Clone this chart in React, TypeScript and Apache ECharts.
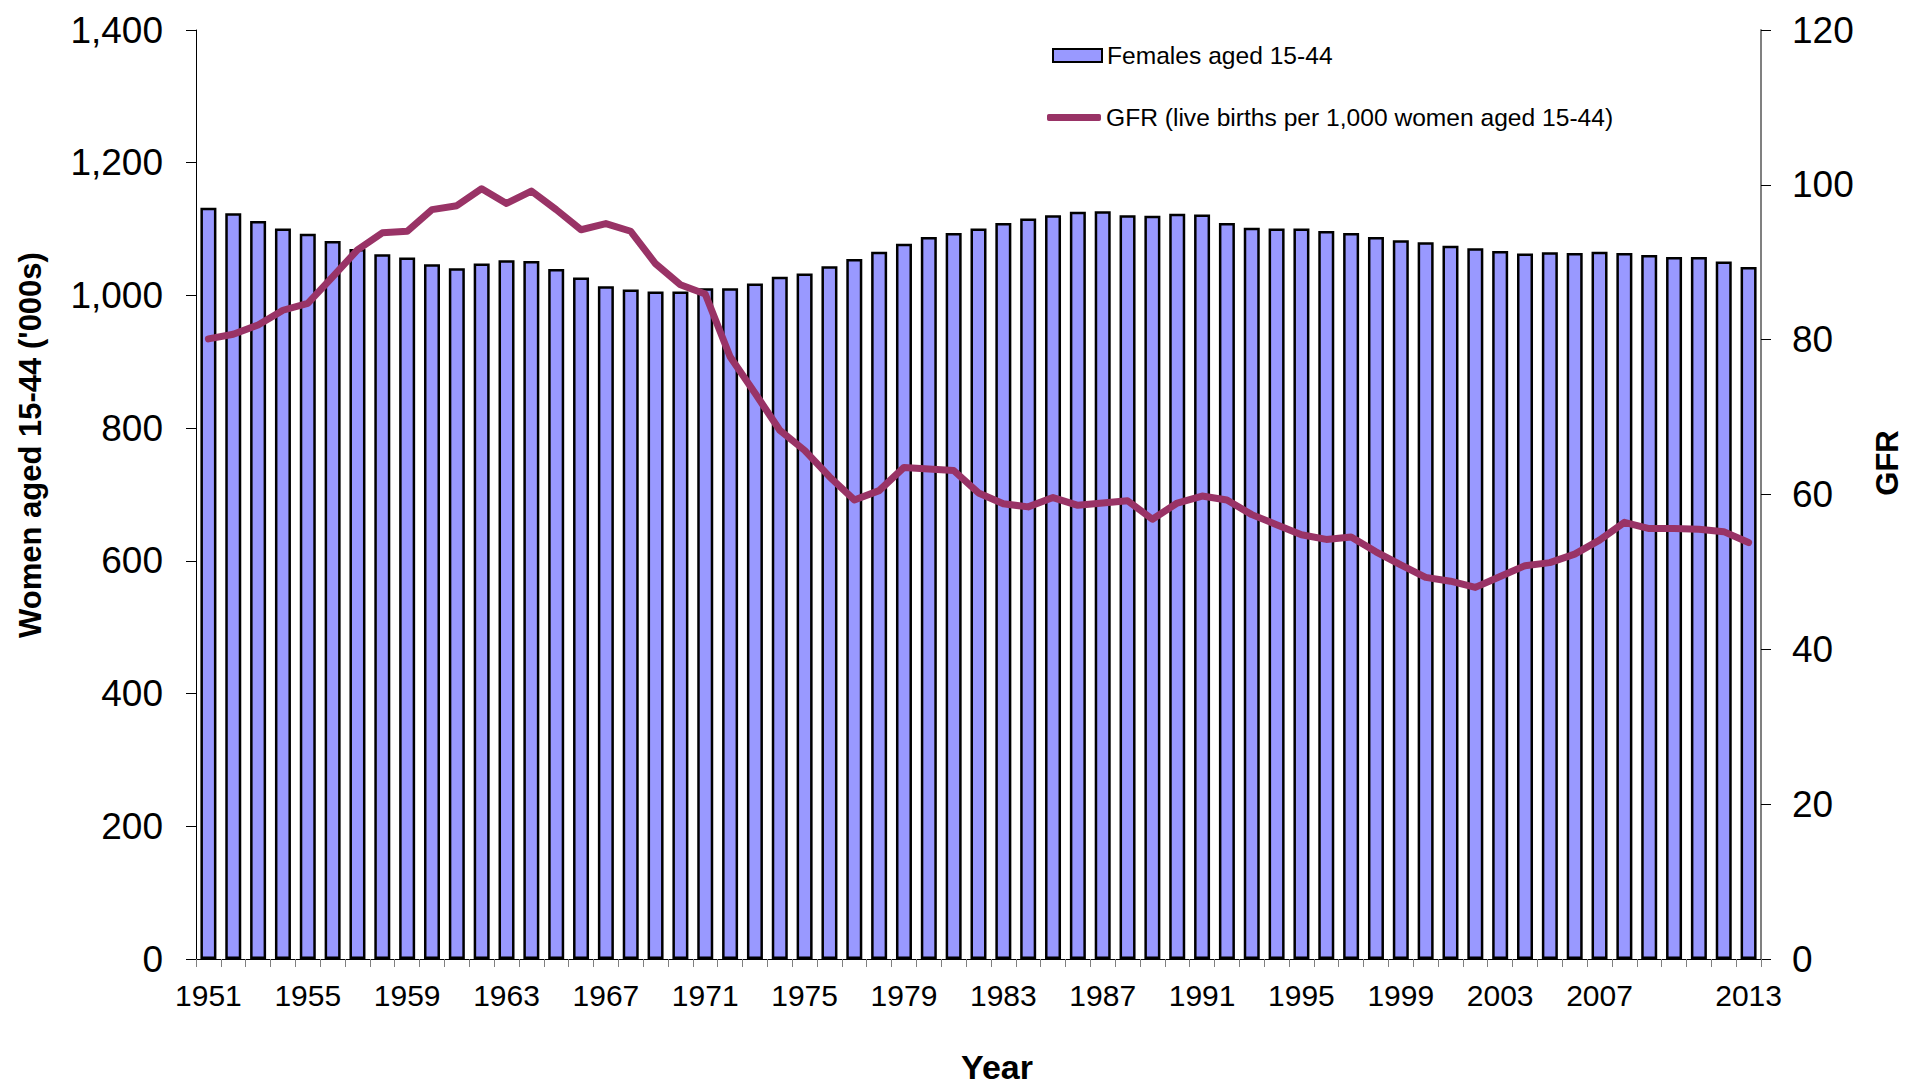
import React, { useEffect, useRef } from "react";
import * as echarts from "echarts";

const years = [
  "1951","1952","1953","1954","1955","1956","1957","1958","1959","1960",
  "1961","1962","1963","1964","1965","1966","1967","1968","1969","1970",
  "1971","1972","1973","1974","1975","1976","1977","1978","1979","1980",
  "1981","1982","1983","1984","1985","1986","1987","1988","1989","1990",
  "1991","1992","1993","1994","1995","1996","1997","1998","1999","2000",
  "2001","2002","2003","2004","2005","2006","2007","2008","2009","2010",
  "2011","2012","2013",
];

const females = [
  1132, 1124, 1112, 1101, 1093, 1082, 1070, 1062, 1057, 1047,
  1041, 1048, 1053, 1052, 1040, 1027, 1014, 1009, 1006, 1006,
  1011, 1011, 1018, 1028, 1033, 1044, 1055, 1066, 1078, 1088,
  1094, 1101, 1109, 1116, 1121, 1126, 1127, 1121, 1120, 1123,
  1122, 1109, 1102, 1101, 1101, 1097, 1094, 1088, 1083, 1080,
  1075, 1071, 1067, 1063, 1065, 1064, 1066, 1064, 1061, 1058,
  1058, 1051, 1043,
];

const gfr = [
  80.1, 80.7, 81.9, 83.8, 84.7, 88.1, 91.6, 93.8, 94.0, 96.8,
  97.3, 99.5, 97.6, 99.2, 96.8, 94.2, 95.0, 94.0, 89.8, 87.1,
  85.9, 77.8, 73.1, 68.3, 65.7, 62.3, 59.3, 60.5, 63.5, 63.3,
  63.1, 60.2, 58.8, 58.4, 59.6, 58.6, 58.9, 59.2, 56.8, 58.9,
  59.8, 59.3, 57.4, 56.1, 54.8, 54.2, 54.5, 52.6, 50.9, 49.3,
  48.8, 48.0, 49.4, 50.8, 51.2, 52.3, 54.1, 56.4, 55.6, 55.6,
  55.5, 55.2, 53.8,
];

const shownYearLabels = [
  "1951","1955","1959","1963","1967","1971","1975","1979","1983",
  "1987","1991","1995","1999","2003","2007","2013",
];

const barName = "Females aged 15-44";
const lineName = "GFR (live births per 1,000 women aged 15-44)";
const leftTitle = "Women aged 15-44 ('000s)";
const rightTitle = "GFR";
const xTitle = "Year";

const FONT = "'Liberation Sans', Arial, sans-serif";

export default function App() {
  const ref = useRef<HTMLDivElement>(null);

  useEffect(() => {
    if (!ref.current) return;
    const chart = echarts.init(ref.current, undefined, { renderer: "svg" });
    chart.setOption({
      animation: false,
      backgroundColor: "#ffffff",
      textStyle: { fontFamily: FONT },
      grid: { left: 196, right: 144, top: 30, bottom: 127, containLabel: false },
      legend: [
        {
          data: [{ name: barName, icon: "rect" }],
          left: 1052,
          top: 43,
          padding: 0,
          itemWidth: 49,
          itemHeight: 13,
          textStyle: { fontSize: 24.6, color: "#000", fontFamily: FONT },
          selectedMode: false,
        },
        {
          data: [{ name: lineName, icon: "roundRect" }],
          left: 1047,
          top: 105,
          padding: 0,
          itemWidth: 54,
          itemHeight: 7,
          textStyle: { fontSize: 24.6, color: "#000", fontFamily: FONT },
          selectedMode: false,
        },
      ],
      xAxis: {
        type: "category",
        data: years,
        boundaryGap: true,
        axisLine: { show: true, lineStyle: { color: "#000", width: 1 } },
        axisTick: { show: true, interval: 0, length: 8, lineStyle: { color: "#808080" } },
        axisLabel: {
          interval: (_i: number, v: string) => shownYearLabels.indexOf(v) >= 0,
          fontSize: 30,
          color: "#000",
          margin: 21,
          fontFamily: FONT,
        },
        splitLine: { show: false },
      },
      yAxis: [
        {
          type: "value",
          min: 0,
          max: 1400,
          interval: 200,
          position: "left",
          axisLine: { show: true, lineStyle: { color: "#000", width: 1 } },
          axisTick: { show: true, length: 10, lineStyle: { color: "#000" } },
          axisLabel: {
            fontSize: 37,
            color: "#000",
            margin: 33,
            fontFamily: FONT,
            formatter: (v: number) => v.toLocaleString("en-US"),
          },
          splitLine: { show: false },
        },
        {
          type: "value",
          min: 0,
          max: 120,
          interval: 20,
          position: "right",
          axisLine: { show: true, lineStyle: { color: "#808080", width: 2 } },
          axisTick: { show: true, length: 10, lineStyle: { color: "#000" } },
          axisLabel: { fontSize: 37, color: "#000", margin: 31, fontFamily: FONT },
          splitLine: { show: false },
        },
      ],
      series: [
        {
          name: barName,
          type: "bar",
          data: females,
          yAxisIndex: 0,
          barWidth: 16,
          itemStyle: { color: "#9999FF", borderColor: "#000", borderWidth: 2.5 },
        },
        {
          name: lineName,
          type: "line",
          data: gfr,
          yAxisIndex: 1,
          symbol: "none",
          itemStyle: { color: "#993366" },
          lineStyle: { color: "#993366", width: 7, cap: "round", join: "round" },
          z: 5,
        },
      ],
      graphic: [
        {
          type: "text",
          x: 30,
          y: 445,
          rotation: Math.PI / 2,
          style: {
            text: leftTitle,
            fontSize: 31,
            fontWeight: "bold",
            fontFamily: FONT,
            fill: "#000",
            align: "center",
            verticalAlign: "middle",
          },
        },
        {
          type: "text",
          x: 1887,
          y: 463,
          rotation: Math.PI / 2,
          style: {
            text: rightTitle,
            fontSize: 31,
            fontWeight: "bold",
            fontFamily: FONT,
            fill: "#000",
            align: "center",
            verticalAlign: "middle",
          },
        },
        {
          type: "text",
          x: 997,
          y: 1067,
          style: {
            text: xTitle,
            fontSize: 34,
            fontWeight: "bold",
            fontFamily: FONT,
            fill: "#000",
            align: "center",
            verticalAlign: "middle",
          },
        },
      ],
    });
    return () => chart.dispose();
  }, []);

  return (
    <div
      ref={ref}
      style={{ position: "absolute", left: 0, top: 0, width: 1905, height: 1086 }}
    />
  );
}
